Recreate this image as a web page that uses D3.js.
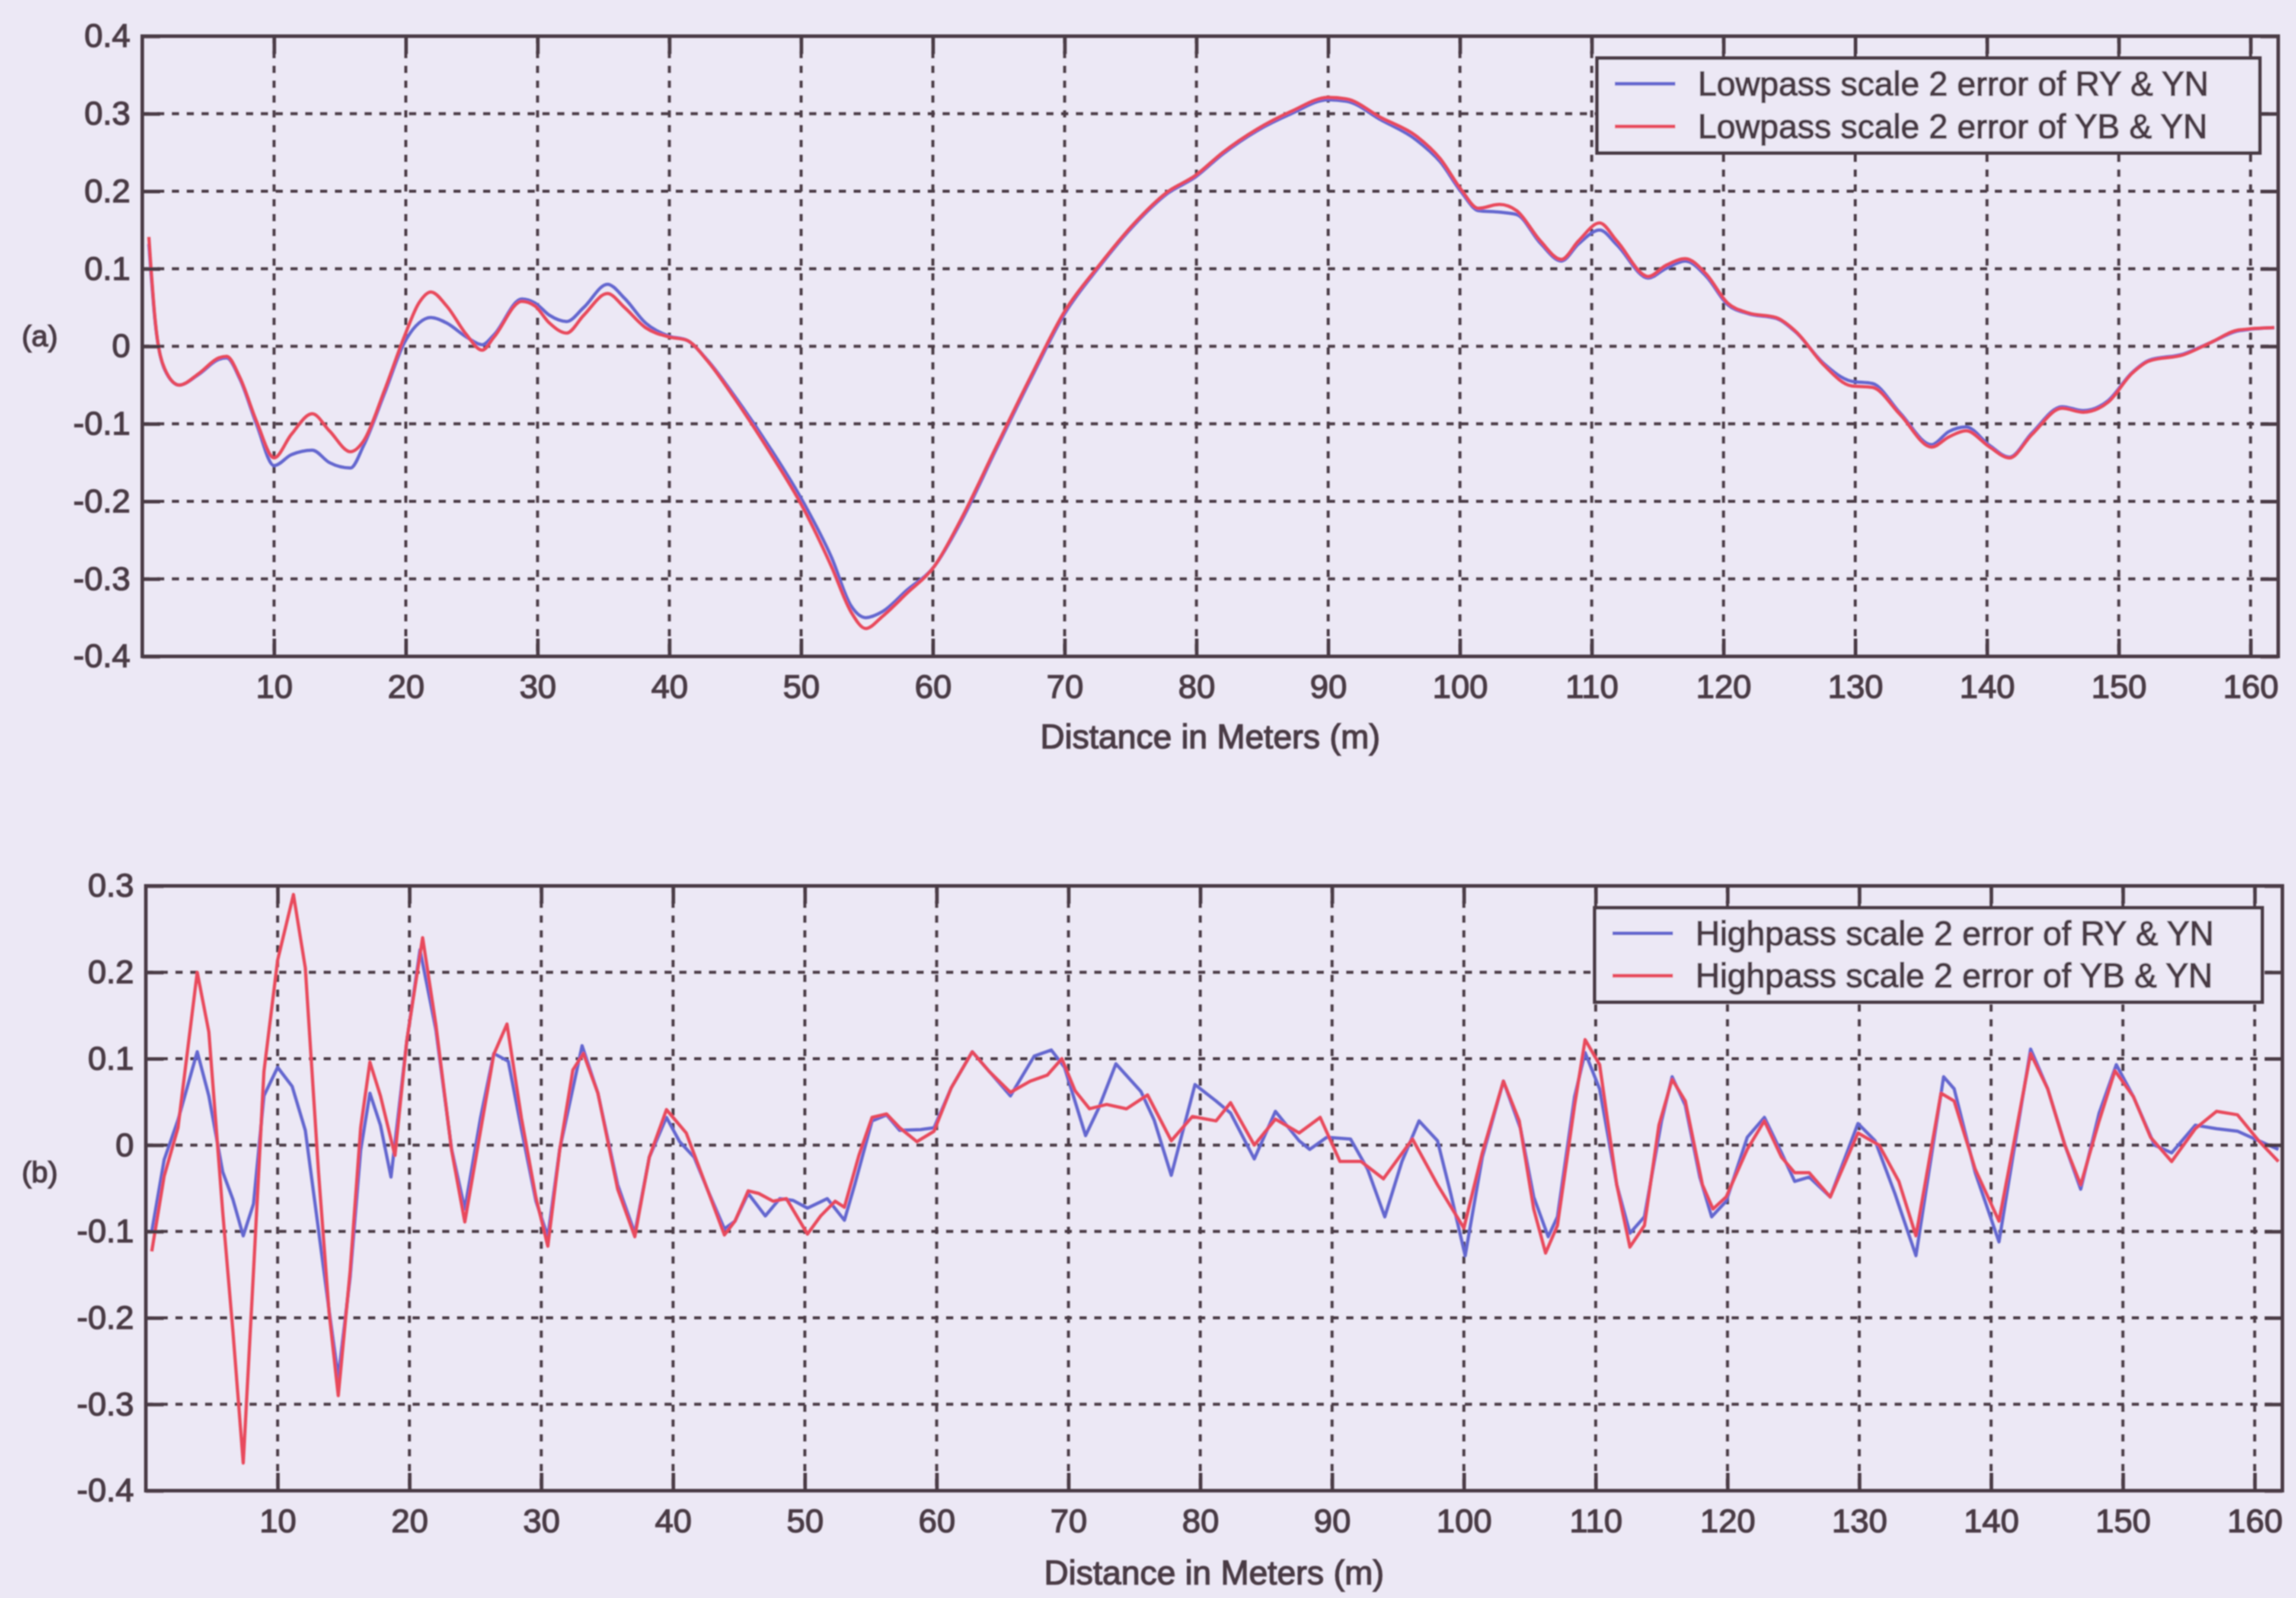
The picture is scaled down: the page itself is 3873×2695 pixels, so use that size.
<!DOCTYPE html>
<html>
<head>
<meta charset="utf-8">
<script src="https://cdn.jsdelivr.net/npm/d3@7"></script>
<style>
  html, body { margin: 0; padding: 0; background: #ECE8F5; }
  svg { display: block; }
</style>
</head>
<body>
<svg id="chart" width="3873" height="2695"></svg>
<script>
// ---- Lowpass scale 2 errors (panel a) ----
const lowDistRY = [0.5, 1, 1.7, 2.8, 4.3, 5.8, 6.4, 7.4, 8.7, 10, 11.3, 12.9, 14.2, 15.8, 16.8, 18.4, 19.9, 21, 21.9, 23.1, 24.6, 25.8, 26.7, 28.8, 29.8, 30.9, 32.2, 33.5, 35.3, 36.6, 38.2, 40, 41.3, 42.9, 44.9, 47.6, 50.2, 52.3, 53.8, 54.9, 56.2, 58, 60.1, 62.2, 64.8, 67.4, 70, 72.6, 75.2, 77.8, 79.9, 82, 84.6, 87.2, 90, 91.4, 94, 96.7, 98.5, 100.1, 101.4, 103, 104.3, 106.1, 107.7, 109, 110.6, 111.9, 114.3, 115.6, 117.1, 118.7, 120.3, 121.9, 124, 125.5, 127.6, 129.7, 131.3, 133.4, 135.8, 137.1, 138.4, 140.2, 141.7, 143.4, 145.7, 147.3, 149.2, 151, 152.3, 154.9, 157, 159.1, 161.8];
const lowRY = [0.132, 0.028, -0.030, -0.050, -0.036, -0.017, -0.015, -0.042, -0.102, -0.154, -0.140, -0.134, -0.150, -0.157, -0.128, -0.060, 0.005, 0.030, 0.037, 0.030, 0.012, 0.002, 0.015, 0.061, 0.056, 0.040, 0.032, 0.050, 0.080, 0.062, 0.030, 0.013, 0.008, -0.018, -0.063, -0.130, -0.202, -0.272, -0.335, -0.350, -0.342, -0.315, -0.284, -0.224, -0.133, -0.043, 0.042, 0.102, 0.155, 0.197, 0.218, 0.248, 0.278, 0.300, 0.318, 0.316, 0.292, 0.266, 0.238, 0.199, 0.175, 0.173, 0.170, 0.133, 0.110, 0.132, 0.150, 0.131, 0.088, 0.100, 0.110, 0.090, 0.054, 0.042, 0.036, 0.018, -0.022, -0.045, -0.048, -0.086, -0.127, -0.110, -0.104, -0.128, -0.143, -0.112, -0.078, -0.083, -0.070, -0.034, -0.018, -0.010, 0.005, 0.020, 0.024];

const lowDistYB = lowDistRY;
const lowYB = [0.141, 0.030, -0.029, -0.050, -0.035, -0.015, -0.013, -0.040, -0.098, -0.144, -0.114, -0.087, -0.109, -0.136, -0.122, -0.056, 0.013, 0.056, 0.070, 0.052, 0.015, -0.005, 0.012, 0.058, 0.052, 0.030, 0.017, 0.040, 0.068, 0.050, 0.024, 0.012, 0.008, -0.019, -0.066, -0.136, -0.210, -0.284, -0.343, -0.364, -0.348, -0.319, -0.284, -0.221, -0.130, -0.040, 0.045, 0.104, 0.157, 0.199, 0.220, 0.250, 0.280, 0.303, 0.321, 0.319, 0.295, 0.271, 0.242, 0.202, 0.178, 0.183, 0.175, 0.136, 0.112, 0.136, 0.159, 0.136, 0.090, 0.104, 0.113, 0.093, 0.056, 0.043, 0.037, 0.019, -0.024, -0.051, -0.053, -0.088, -0.130, -0.117, -0.109, -0.130, -0.144, -0.114, -0.080, -0.085, -0.072, -0.035, -0.019, -0.011, 0.005, 0.021, 0.024];

// ---- Highpass scale 2 errors (panel b) ----
const highDistRY = [0.45, 1.39, 2.44, 3.9, 4.78, 5.83, 6.61, 7.39, 8.17, 8.96, 10, 11.1, 12.1, 13.1, 13.9, 14.6, 15.5, 16.3, 17, 17.8, 18.6, 19.8, 20.8, 22, 23.2, 24.2, 25.4, 26.4, 27.5, 28.5, 29.6, 30.5, 31.4, 33.1, 34.3, 35.8, 37.1, 38.2, 39.5, 40.5, 41.6, 42.6, 43.9, 44.7, 45.7, 47, 48.1, 49.1, 50.2, 51.7, 53, 53.8, 55.1, 56.2, 57.2, 58.8, 59.8, 61.1, 62.7, 64, 65.6, 67.4, 68.7, 69.7, 71.3, 72.3, 73.6, 75.5, 76.5, 77.8, 79.6, 81.2, 82.3, 84.1, 85.7, 87.5, 88.3, 89.6, 91.4, 92.7, 94, 95.3, 96.6, 98, 99, 100.1, 101.4, 103, 104.3, 105.3, 106.4, 107.1, 108.4, 109.2, 110.3, 111.6, 112.6, 113.7, 115, 115.8, 116.8, 117.9, 118.8, 119.9, 121.5, 122.8, 124.1, 125.1, 126.2, 127.8, 129.9, 131.2, 132.7, 134.3, 136.4, 137.2, 138.8, 140.6, 141.7, 143, 144.3, 145.6, 146.8, 148.2, 149.5, 150.8, 152.4, 153.7, 155.5, 157.1, 158.7, 160.3, 161.8];
const highRY = [-0.100, -0.017, 0.029, 0.108, 0.057, -0.031, -0.063, -0.105, -0.068, 0.057, 0.090, 0.068, 0.017, -0.098, -0.191, -0.269, -0.153, -0.006, 0.060, 0.023, -0.037, 0.120, 0.226, 0.134, -0.005, -0.074, 0.032, 0.106, 0.097, 0.018, -0.065, -0.106, -0.005, 0.115, 0.060, -0.046, -0.102, -0.014, 0.032, 0.004, -0.014, -0.051, -0.097, -0.088, -0.056, -0.082, -0.062, -0.064, -0.073, -0.062, -0.087, -0.045, 0.028, 0.035, 0.017, 0.018, 0.020, 0.066, 0.108, 0.085, 0.057, 0.103, 0.110, 0.090, 0.011, 0.043, 0.094, 0.062, 0.029, -0.035, 0.070, 0.051, 0.037, -0.016, 0.039, 0.005, -0.005, 0.009, 0.007, -0.028, -0.083, -0.019, 0.028, 0.005, -0.056, -0.128, -0.014, 0.074, 0.019, -0.060, -0.106, -0.083, 0.056, 0.107, 0.065, -0.046, -0.102, -0.083, 0.028, 0.079, 0.046, -0.037, -0.083, -0.065, 0.009, 0.032, -0.009, -0.042, -0.037, -0.060, 0.025, 0.005, -0.056, -0.128, 0.079, 0.065, -0.032, -0.112, -0.009, 0.111, 0.065, 0.000, -0.051, 0.037, 0.093, 0.056, 0.000, -0.009, 0.023, 0.019, 0.016, 0.005, -0.005];

const highDistYB = [0.45, 1.39, 2.44, 3.9, 4.78, 5.83, 6.61, 7.39, 8.17, 8.96, 10, 11.2, 12.1, 13.1, 13.9, 14.6, 15.5, 16.3, 17, 17.8, 18.9, 19.8, 21, 22, 23.2, 24.2, 25.4, 26.4, 27.4, 28.5, 29.6, 30.5, 31.4, 32.4, 33.2, 34.3, 35.8, 37.1, 38.2, 39.5, 41, 42.6, 43.9, 44.7, 45.7, 46.5, 47.6, 48.6, 50.2, 51.2, 52.3, 53, 54.1, 55.1, 56.2, 57.2, 58.5, 59.8, 61.1, 62.7, 64, 65.6, 67.1, 68.4, 69.5, 70.5, 71.6, 72.9, 74.4, 76, 77.8, 79.4, 81.2, 82.3, 84.1, 85.7, 87.5, 89.1, 90.6, 92.2, 93.9, 96.1, 98, 100, 101.4, 103, 104.2, 105.3, 106.2, 107.1, 108.4, 109.2, 110.3, 111.6, 112.6, 113.7, 114.8, 115.8, 116.8, 118.1, 118.9, 119.9, 121.5, 122.8, 124.1, 125.1, 126.2, 127.8, 129.9, 131.5, 133, 134.3, 136.2, 137.2, 138.8, 140.6, 141.7, 143, 144.3, 145.6, 146.8, 148.2, 149.4, 150.8, 152.1, 153.7, 155.5, 157.1, 158.7, 160.3, 161.8];
const highYB = [-0.123, -0.036, 0.020, 0.200, 0.131, -0.077, -0.216, -0.368, -0.146, 0.085, 0.214, 0.290, 0.205, -0.031, -0.193, -0.290, -0.146, 0.020, 0.096, 0.057, -0.012, 0.121, 0.240, 0.140, -0.006, -0.089, 0.017, 0.105, 0.140, 0.031, -0.061, -0.117, -0.006, 0.087, 0.106, 0.060, -0.051, -0.106, -0.014, 0.041, 0.014, -0.051, -0.104, -0.088, -0.053, -0.056, -0.065, -0.062, -0.103, -0.082, -0.065, -0.072, -0.012, 0.032, 0.036, 0.020, 0.004, 0.016, 0.066, 0.108, 0.085, 0.061, 0.074, 0.081, 0.100, 0.063, 0.042, 0.047, 0.042, 0.058, 0.005, 0.033, 0.028, 0.049, 0.000, 0.030, 0.014, 0.032, -0.019, -0.019, -0.039, 0.007, -0.046, -0.096, -0.009, 0.074, 0.028, -0.074, -0.125, -0.093, 0.046, 0.122, 0.093, -0.046, -0.118, -0.093, 0.023, 0.076, 0.051, -0.046, -0.074, -0.060, -0.005, 0.028, -0.014, -0.032, -0.032, -0.060, 0.014, 0.000, -0.042, -0.105, 0.060, 0.051, -0.028, -0.088, 0.000, 0.106, 0.065, 0.000, -0.046, 0.028, 0.086, 0.056, 0.009, -0.019, 0.019, 0.039, 0.035, 0.005, -0.019];

// ---- Axis ticks and labels ----
const distanceTicks = [10, 20, 30, 40, 50, 60, 70, 80, 90, 100, 110, 120, 130, 140, 150, 160];
const errorTicksA = [-0.4, -0.3, -0.2, -0.1, 0, 0.1, 0.2, 0.3, 0.4];
const errorTicksB = [-0.4, -0.3, -0.2, -0.1, 0, 0.1, 0.2, 0.3];
const xTitle = "Distance in Meters (m)";
const legendA = ["Lowpass scale 2 error of RY & YN", "Lowpass scale 2 error of YB & YN"];
const legendB = ["Highpass scale 2 error of RY & YN", "Highpass scale 2 error of YB & YN"];

const INK = "#4a3b45";
const BLUE = "#6466cf";
const RED = "#e84a5c";
const BG = "#ECE8F5";
const FONT = "'Liberation Sans', Arial, sans-serif";

const svg = d3.select("#chart");
const defs = svg.append("defs");
defs.append("filter").attr("id", "soft")
  .append("feGaussianBlur").attr("stdDeviation", 1.1);

svg.append("rect").attr("width", 3873).attr("height", 2695).attr("fill", BG);
const root = svg.append("g").attr("filter", "url(#soft)");

// text is printed a little heavy, so give it a thin outline of the same ink
const inkText = sel => sel
  .attr("fill", INK).attr("stroke", INK).attr("stroke-width", 1.6)
  .attr("font-family", FONT);

const panels = [
  {
    tag: "(a)", tagY: 566,
    box: { left: 240, right: 3843, top: 61, bottom: 1107 },
    yDomain: [-0.4, 0.4], yTicks: errorTicksA,
    series: [
      { dist: lowDistRY, val: lowRY, color: BLUE },
      { dist: lowDistYB, val: lowYB, color: RED }
    ],
    curve: d3.curveMonotoneX,
    legend: legendA,
    legendBox: { x: 2694, y: 98, w: 1118, h: 160 },
    titleY: 1262
  },
  {
    tag: "(b)", tagY: 1976,
    box: { left: 246, right: 3850, top: 1494, bottom: 2514 },
    yDomain: [-0.4, 0.3], yTicks: errorTicksB,
    series: [
      { dist: highDistRY, val: highRY, color: BLUE },
      { dist: highDistYB, val: highYB, color: RED }
    ],
    curve: d3.curveLinear,
    legend: legendB,
    legendBox: { x: 2690, y: 1531, w: 1126, h: 159 },
    titleY: 2672
  }
];

panels.forEach(p => {
  const b = p.box;
  const x = d3.scaleLinear().domain([0, 162.1]).range([b.left, b.right]);
  const y = d3.scaleLinear().domain(p.yDomain).range([b.bottom, b.top]);
  const g = root.append("g");

  // dotted grid
  const grid = g.append("g")
    .attr("stroke", INK).attr("stroke-width", 5)
    .attr("stroke-dasharray", "12,13").attr("fill", "none");
  grid.selectAll("line.v").data(distanceTicks).join("line")
    .attr("class", "v")
    .attr("x1", d => x(d)).attr("x2", d => x(d))
    .attr("y1", b.top).attr("y2", b.bottom);
  grid.selectAll("line.h").data(p.yTicks.filter(v => v > p.yDomain[0] && v < p.yDomain[1])).join("line")
    .attr("class", "h")
    .attr("x1", b.left).attr("x2", b.right)
    .attr("y1", d => y(d)).attr("y2", d => y(d));

  // data lines
  const clipId = "clip" + p.tag.replace(/[()]/g, "");
  defs.append("clipPath").attr("id", clipId)
    .append("rect").attr("x", b.left).attr("y", b.top)
    .attr("width", b.right - b.left).attr("height", b.bottom - b.top);
  const lines = g.append("g").attr("clip-path", `url(#${clipId})`);
  p.series.forEach(s => {
    const pts = s.dist.map((d, i) => [d, s.val[i]]);
    lines.append("path")
      .attr("d", d3.line().x(d => x(d[0])).y(d => y(d[1])).curve(p.curve)(pts))
      .attr("fill", "none").attr("stroke", s.color)
      .attr("stroke-width", 5.5).attr("stroke-linejoin", "round");
  });

  // axes with inward ticks on all four sides
  const fmt = v => (Math.abs(v) < 1e-9 ? "0" : v.toFixed(1));
  const styleAxis = sel => {
    sel.select(".domain").remove();
    sel.selectAll(".tick line").attr("stroke", INK).attr("stroke-width", 6);
    sel.selectAll("text").call(inkText).attr("font-size", 56);
  };
  g.append("g").attr("transform", `translate(0,${b.bottom})`)
    .call(d3.axisBottom(x).tickValues(distanceTicks).tickSizeInner(-30).tickSizeOuter(0).tickPadding(30))
    .call(styleAxis);
  g.append("g").attr("transform", `translate(0,${b.top})`)
    .call(d3.axisTop(x).tickValues(distanceTicks).tickSizeInner(-30).tickSizeOuter(0).tickFormat(""))
    .call(styleAxis);
  g.append("g").attr("transform", `translate(${b.left},0)`)
    .call(d3.axisLeft(y).tickValues(p.yTicks).tickSizeInner(-30).tickSizeOuter(0).tickPadding(20).tickFormat(fmt))
    .call(styleAxis);
  g.append("g").attr("transform", `translate(${b.right},0)`)
    .call(d3.axisRight(y).tickValues(p.yTicks).tickSizeInner(-30).tickSizeOuter(0).tickFormat(""))
    .call(styleAxis);

  // frame
  g.append("rect")
    .attr("x", b.left).attr("y", b.top)
    .attr("width", b.right - b.left).attr("height", b.bottom - b.top)
    .attr("fill", "none").attr("stroke", INK).attr("stroke-width", 6);

  // x-axis title
  g.append("text")
    .attr("x", (b.left + b.right) / 2).attr("y", p.titleY)
    .attr("text-anchor", "middle")
    .call(inkText).attr("font-size", 57)
    .text(xTitle);

  // panel tag
  g.append("text")
    .attr("x", 67).attr("y", p.tagY).attr("dy", "0.35em")
    .attr("text-anchor", "middle")
    .call(inkText).attr("font-size", 50)
    .text(p.tag);

  // legend
  const L = p.legendBox;
  const lg = g.append("g");
  lg.append("rect").attr("x", L.x).attr("y", L.y).attr("width", L.w).attr("height", L.h)
    .attr("fill", BG).attr("stroke", INK).attr("stroke-width", 6);
  p.series.forEach((s, i) => {
    const cy = L.y + L.h * (i === 0 ? 0.27 : 0.72);
    lg.append("line")
      .attr("x1", L.x + 30).attr("x2", L.x + 132)
      .attr("y1", cy).attr("y2", cy)
      .attr("stroke", s.color).attr("stroke-width", 6);
    lg.append("text")
      .attr("x", L.x + 170).attr("y", cy).attr("dy", "0.35em")
      .call(inkText).attr("font-size", 57)
      .text(p.legend[i]);
  });
});
</script>
</body>
</html>
